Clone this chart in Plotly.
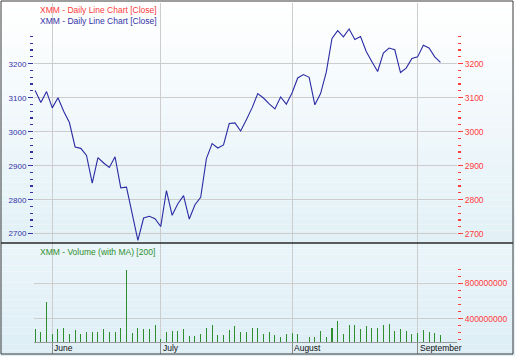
import plotly.graph_objects as go

# ---------------- data ----------------
day_index = list(range(72))  # trading days, late May .. early September
close = [3121, 3086, 3118, 3070, 3100, 3060, 3027, 2955, 2951, 2930,
         2849, 2924, 2908, 2895, 2926, 2835, 2837, 2758, 2680, 2746,
         2751, 2744, 2721, 2827, 2754, 2788, 2812, 2743, 2785, 2807,
         2921, 2965, 2952, 2961, 3024, 3026, 3002, 3035, 3070, 3112,
         3099, 3082, 3067, 3102, 3081, 3114, 3158, 3168, 3160, 3079,
         3112, 3175, 3274, 3297, 3279, 3302, 3271, 3280, 3236, 3206,
         3177, 3231, 3246, 3241, 3174, 3187, 3215, 3220, 3254, 3246,
         3220, 3204]
volume = [285e6, 247e6, 590e6, 228e6, 278e6, 290e6, 228e6, 267e6, 221e6, 247e6,
          247e6, 247e6, 278e6, 247e6, 247e6, 293e6, 952e6, 239e6, 293e6, 278e6,
          278e6, 331e6, 171e6, 247e6, 255e6, 255e6, 278e6, 198e6, 198e6, 228e6,
          293e6, 324e6, 209e6, 209e6, 267e6, 312e6, 247e6, 247e6, 297e6, 293e6,
          228e6, 244e6, 209e6, 190e6, 221e6, 239e6, 228e6, 120e6, 190e6, 190e6,
          255e6, 190e6, 297e6, 369e6, 221e6, 324e6, 324e6, 285e6, 312e6, 297e6,
          293e6, 324e6, 343e6, 255e6, 278e6, 255e6, 221e6, 239e6, 274e6, 247e6,
          239e6, 209e6]
month_start_index = [3, 22, 45, 67]
month_labels = ["June", "July", "August", "September"]
price_ticks = [2700, 2800, 2900, 3000, 3100, 3200]
volume_ticks = [400e6, 800e6]
volume_tick_labels = ["400000000", "800000000"]

# ---------------- layout geometry ----------------
W, H = 515, 356
ML, MR, MT, MB = 34, 58, 3, 14
PW, PH = W - ML - MR, H - MT - MB


def px(xp):
    return (xp - ML) / PW


def py(yp):
    return (H - MB - yp) / PH


split = py(243)

FONT = "Liberation Sans, Arial, sans-serif"
BLUE = "#3333a6"
RED = "#ff3b3b"
GREEN = "#2f8f2f"

fig = go.Figure()

fig.add_trace(go.Bar(x=day_index, y=volume, xaxis="x", yaxis="y",
                     marker=dict(color="#2e8e2e", line=dict(width=0)),
                     width=0.18, showlegend=False, hoverinfo="skip"))
fig.add_trace(go.Scatter(x=day_index, y=close, xaxis="x2", yaxis="y2",
                         mode="lines", line=dict(color="#2b2ba5", width=1.1),
                         showlegend=False))
fig.add_trace(go.Scatter(x=day_index, y=close, xaxis="x2", yaxis="y3",
                         mode="lines", line=dict(width=0), opacity=0,
                         showlegend=False, hoverinfo="skip"))

# background gradients
shapes = []


def band(y_top, y_bot, c_top, c_bot, n):
    for i in range(n):
        t = i / (n - 1)
        c = tuple(round(c_top[k] + (c_bot[k] - c_top[k]) * t) for k in range(3))
        y0 = y_top + (y_bot - y_top) * i / n
        y1 = y_top + (y_bot - y_top) * (i + 1) / n
        shapes.append(dict(type="rect", xref="paper", yref="paper",
                           x0=px(0), x1=px(W), y0=py(y1), y1=py(y0),
                           fillcolor="rgb(%d,%d,%d)" % c, line=dict(width=0),
                           layer="below"))


band(0, 243, (255, 255, 255), (226, 241, 247), 40)
band(243, 356, (234, 245, 250), (222, 238, 245), 20)

# frame and separator
shapes.append(dict(type="rect", xref="paper", yref="paper",
                   x0=px(1), x1=px(513), y0=py(354), y1=py(1),
                   line=dict(color="#3a3a3a", width=1), layer="above"))
shapes.append(dict(type="line", xref="paper", yref="paper",
                   x0=px(1), x1=px(513), y0=split, y1=split,
                   line=dict(color="#2a2a2a", width=1.5), layer="above"))

annotations = [
    dict(text="XMM - Daily Line Chart [Close]", xref="paper", yref="paper",
         x=px(38), y=py(10), xanchor="left", yanchor="middle", showarrow=False,
         font=dict(family=FONT, size=8.5, color=RED)),
    dict(text="XMM - Daily Line Chart [Close]", xref="paper", yref="paper",
         x=px(38), y=py(21), xanchor="left", yanchor="middle", showarrow=False,
         font=dict(family=FONT, size=8.5, color=BLUE)),
    dict(text="XMM - Volume (with MA) [200]", xref="paper", yref="paper",
         x=px(38), y=py(252), xanchor="left", yanchor="middle", showarrow=False,
         font=dict(family=FONT, size=8.5, color=GREEN)),
]
for xi, lab in zip(month_start_index, month_labels):
    annotations.append(dict(text=lab, xref="x", yref="paper", x=xi, y=py(347.5),
                            xanchor="left", yanchor="middle", xshift=0,
                            showarrow=False,
                            font=dict(family=FONT, size=8.5, color="#111111")))

xrange = [-0.2, 73.9]
grid_c = "#cdcdcd"

fig.update_layout(
    width=W, height=H,
    margin=dict(l=ML, r=MR, t=MT, b=MB, pad=0),
    paper_bgcolor="white", plot_bgcolor="rgba(0,0,0,0)",
    font=dict(family=FONT, size=8.5),
    bargap=0,
    shapes=shapes, annotations=annotations,
    xaxis=dict(domain=[0, 1], anchor="y", range=xrange,
               tickvals=month_start_index, showticklabels=False,
               ticks="outside", ticklen=11, tickcolor="#8a8a8a", tickwidth=1,
               showgrid=True, gridcolor=grid_c, gridwidth=1,
               showline=True, linecolor="#9a9a9a", linewidth=1,
               zeroline=False, fixedrange=True),
    xaxis2=dict(domain=[0, 1], anchor="y2", matches="x", range=xrange,
                tickvals=month_start_index, showticklabels=False, ticks="",
                showgrid=True, gridcolor=grid_c, gridwidth=1,
                showline=False, zeroline=False),
    yaxis=dict(domain=[0, split], anchor="x", side="right",
               range=[133e6, 1262e6],
               tickvals=volume_ticks, ticktext=volume_tick_labels,
               ticks="outside", ticklen=5, tickwidth=1.2, tickcolor=RED,
               tickfont=dict(family=FONT, size=8.5, color=RED),
               minor=dict(tickvals=[v * 1e6 for v in range(160, 961, 80)],
                          ticks="outside", ticklen=3, tickwidth=1.2,
                          tickcolor=RED, showgrid=False),
               showgrid=True, gridcolor=grid_c, gridwidth=1,
               zeroline=False, showline=False),
    yaxis2=dict(domain=[split, 1], anchor="x2", side="left",
                range=[2672.6, 3378.5],
                tickvals=price_ticks, ticktext=[str(v) for v in price_ticks],
                ticks="outside", ticklen=5, tickwidth=1.2, tickcolor=BLUE,
                tickfont=dict(family=FONT, size=8, color=BLUE),
                minor=dict(tickvals=list(range(2700, 3281, 20)),
                           ticks="outside", ticklen=3, tickwidth=1.2,
                           tickcolor=BLUE, showgrid=False),
                showgrid=True, gridcolor=grid_c, gridwidth=1,
                zeroline=False, showline=False),
    yaxis3=dict(overlaying="y2", anchor="x2", side="right",
                range=[2672.6, 3378.5],
                tickvals=price_ticks, ticktext=[str(v) for v in price_ticks],
                ticks="outside", ticklen=5, tickwidth=1.2, tickcolor=RED,
                tickfont=dict(family=FONT, size=8.5, color=RED),
                minor=dict(tickvals=list(range(2700, 3281, 20)),
                           ticks="outside", ticklen=3, tickwidth=1.2,
                           tickcolor=RED, showgrid=False),
                showgrid=False, zeroline=False, showline=False),
)

fig.write_html("out.html",
               config={"displayModeBar": False, "staticPlot": True},
               post_script="document.body.style.margin='0';"
                           "document.body.style.overflow='hidden';")
